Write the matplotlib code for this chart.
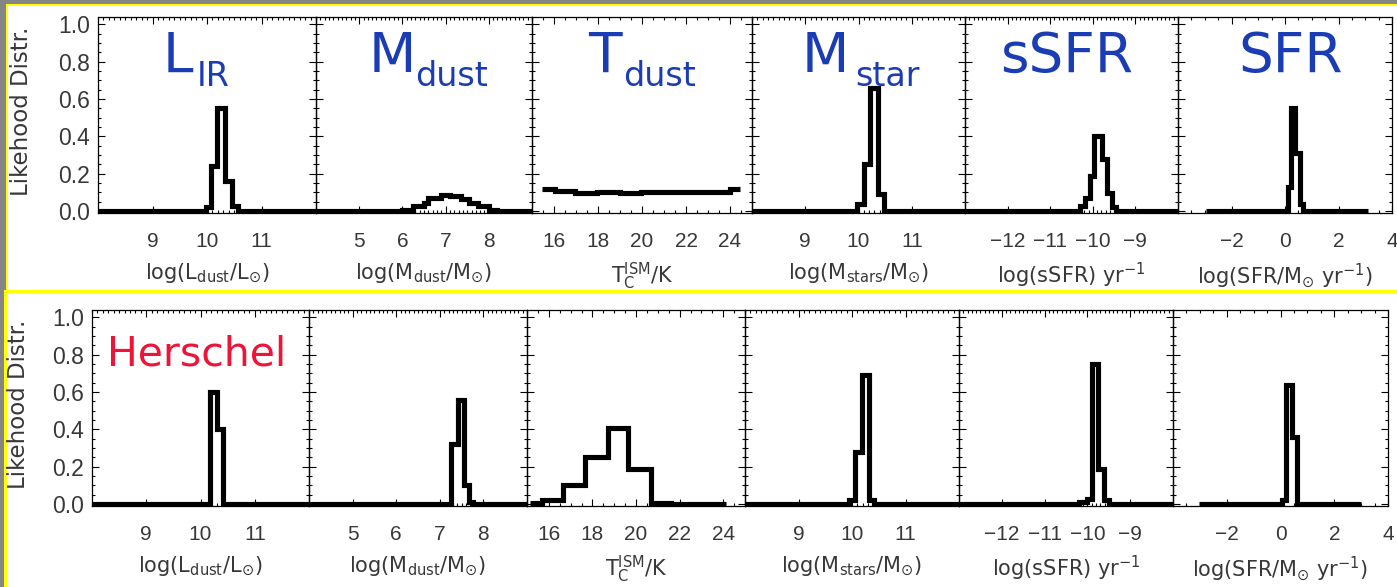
import matplotlib
matplotlib.use("Agg")
import matplotlib.pyplot as plt
from matplotlib.patches import Rectangle
from matplotlib.ticker import FixedLocator, FixedFormatter, MultipleLocator

# ---------------------------------------------------------------- data
# x ranges of the six parameters
lir_range = (8.0, 12.0)
mdust_range = (4.0, 9.0)
tdust_range = (15.0, 25.0)
mstar_range = (8.0, 12.0)
ssfr_range = (-13.0, -8.0)
sfr_range = (-4.0, 4.0)

# labelled ticks
lir_ticks = [9, 10, 11]
lir_ticklabels = ["9", "10", "11"]
mdust_ticks = [5, 6, 7, 8]
mdust_ticklabels = ["5", "6", "7", "8"]
tdust_ticks = [16, 18, 20, 22, 24]
tdust_ticklabels = ["16", "18", "20", "22", "24"]
mstar_ticks = [9, 10, 11]
mstar_ticklabels = ["9", "10", "11"]
ssfr_ticks = [-12, -11, -10, -9]
ssfr_ticklabels = ["\u221212", "\u221211", "\u221210", "\u22129"]
sfr_ticks = [-2, 0, 2, 4]
sfr_ticklabels = ["\u22122", "0", "2", "4"]

y_ticks = [0.0, 0.2, 0.4, 0.6, 0.8, 1.0]
y_ticklabels = ["0.0", "0.2", "0.4", "0.6", "0.8", "1.0"]

# likelihood distributions, full-data fit (top row)
lir_top_edges = [8.0, 9.98, 10.08, 10.19, 10.33, 10.45, 10.57, 12.0]
lir_top_vals = [0.0, 0.02, 0.24, 0.55, 0.16, 0.03, 0.0]
mdust_top_edges = [4.0, 6.0, 6.25, 6.5, 6.6, 6.9, 7.1, 7.35, 7.55, 7.75, 8.0, 8.2, 9.0]
mdust_top_vals = [0.0, 0.005, 0.025, 0.045, 0.07, 0.085, 0.08, 0.065, 0.045, 0.025, 0.005, 0.0]
tdust_top_edges = [15.45, 16.05, 16.95, 17.95, 19.0, 19.95, 21.0, 22.0, 23.0, 24.0, 24.45]
tdust_top_vals = [0.117, 0.108, 0.096, 0.103, 0.099, 0.101, 0.100, 0.101, 0.103, 0.117]
mstar_top_edges = [8.0, 9.98, 10.1, 10.22, 10.37, 10.47, 12.0]
mstar_top_vals = [0.0, 0.04, 0.25, 0.66, 0.09, 0.0]
ssfr_top_edges = [-13.0, -10.3, -10.18, -10.07, -9.97, -9.79, -9.66, -9.56, -9.46, -8.0]
ssfr_top_vals = [0.0, 0.03, 0.07, 0.19, 0.40, 0.28, 0.095, 0.02, 0.0]
sfr_top_edges = [-2.95, 0.1, 0.24, 0.39, 0.55, 0.67, 3.1]
sfr_top_vals = [0.0, 0.13, 0.55, 0.31, 0.04, 0.0]

# likelihood distributions, Herschel fit (bottom row)
lir_bot_edges = [8.0, 10.17, 10.3, 10.42, 12.0]
lir_bot_vals = [0.0, 0.60, 0.40, 0.0]
mdust_bot_edges = [4.0, 7.26, 7.41, 7.56, 7.66, 7.76, 9.0]
mdust_bot_vals = [0.0, 0.32, 0.56, 0.10, 0.01, 0.0]
tdust_bot_edges = [15.15, 15.68, 16.65, 17.65, 18.7, 19.62, 20.68, 21.6, 24.15]
tdust_bot_vals = [0.005, 0.02, 0.10, 0.25, 0.41, 0.19, 0.005, 0.0]
mstar_bot_edges = [8.0, 9.95, 10.06, 10.18, 10.32, 10.41, 12.0]
mstar_bot_vals = [0.0, 0.02, 0.28, 0.69, 0.02, 0.0]
ssfr_bot_edges = [-13.0, -10.2, -10.0, -9.9, -9.75, -9.62, -9.5, -8.0]
ssfr_bot_vals = [0.0, 0.01, 0.03, 0.75, 0.19, 0.02, 0.0]
sfr_bot_edges = [-3.05, 0.05, 0.22, 0.43, 0.6, 3.0]
sfr_bot_vals = [0.0, 0.02, 0.64, 0.36, 0.0]

x_labels = [
    r"log(L$_{\mathregular{dust}}$/L$_{\mathregular{⊙}}$)",
    r"log(M$_{\mathregular{dust}}$/M$_{\mathregular{⊙}}$)",
    r"T$_{\mathregular{C}}^{\mathregular{ISM}}$/K",
    r"log(M$_{\mathregular{stars}}$/M$_{\mathregular{⊙}}$)",
    r"log(sSFR) yr$^{-1}$",
    r"log(SFR/M$_{\mathregular{⊙}}$ yr$^{-1}$)",
]
y_label = "Likehood Distr."
title_main = ["L", "M", "T", "M", "sSFR", "SFR"]
title_sub = ["IR", "dust", "dust", "star", "", ""]
row_tag = "Herschel"

# ---------------------------------------------------------------- layout
W, H = 1397, 587
fig = plt.figure(figsize=(W / 100, H / 100), dpi=100, facecolor="#858585")


def add_box(x0, y0, x1, y1, color, z):
    fig.add_artist(Rectangle((x0 / W, 1 - y1 / H), (x1 - x0) / W, (y1 - y0) / H,
                             transform=fig.transFigure, facecolor=color,
                             edgecolor="none", zorder=z))


# white slide panels with yellow rims
add_box(6, 4, 1400, 292, "#ffff00", -20)
add_box(8, 6, 1400, 290, "white", -19)
add_box(4, 290, 1400, 590, "#ffff00", -18)
add_box(7, 293, 1400, 590, "white", -17)

top_cols = [98, 316, 532, 752, 965, 1178, 1392]
bot_cols = [92, 309, 527, 745, 959, 1173, 1388]
rows = [
    dict(cols=top_cols, top=17, bottom=213,
         hists=[(lir_top_edges, lir_top_vals), (mdust_top_edges, mdust_top_vals),
                (tdust_top_edges, tdust_top_vals), (mstar_top_edges, mstar_top_vals),
                (ssfr_top_edges, ssfr_top_vals), (sfr_top_edges, sfr_top_vals)]),
    dict(cols=bot_cols, top=310, bottom=506,
         hists=[(lir_bot_edges, lir_bot_vals), (mdust_bot_edges, mdust_bot_vals),
                (tdust_bot_edges, tdust_bot_vals), (mstar_bot_edges, mstar_bot_vals),
                (ssfr_bot_edges, ssfr_bot_vals), (sfr_bot_edges, sfr_bot_vals)]),
]
ranges = [lir_range, mdust_range, tdust_range, mstar_range, ssfr_range, sfr_range]
ticks = [lir_ticks, mdust_ticks, tdust_ticks, mstar_ticks, ssfr_ticks, sfr_ticks]
ticklabels = [lir_ticklabels, mdust_ticklabels, tdust_ticklabels,
              mstar_ticklabels, ssfr_ticklabels, sfr_ticklabels]
minor_steps = [0.1, 0.1, 0.5, 0.1, 0.1, 0.5]

text_col = "#383838"

for r, row in enumerate(rows):
    cols, t, b = row["cols"], row["top"], row["bottom"]
    for i in range(6):
        x0, x1 = cols[i], cols[i + 1]
        ax = fig.add_axes([x0 / W, 1 - b / H, (x1 - x0) / W, (b - t) / H])
        ax.set_facecolor("none")
        edges, vals = row["hists"][i]
        ax.stairs(vals, edges, baseline=None, color="black", linewidth=3.7)
        ax.set_xlim(*ranges[i])
        ax.set_ylim(-0.01, 1.04)

        ax.xaxis.set_major_locator(FixedLocator(ticks[i]))
        ax.xaxis.set_major_formatter(FixedFormatter(ticklabels[i]))
        ax.xaxis.set_minor_locator(MultipleLocator(minor_steps[i]))
        ax.yaxis.set_major_locator(FixedLocator(y_ticks))
        ax.yaxis.set_minor_locator(MultipleLocator(0.05))
        if i == 0:
            ax.yaxis.set_major_formatter(FixedFormatter(y_ticklabels))
        else:
            ax.set_yticklabels([])

        ax.tick_params(which="both", direction="in", top=True, right=True,
                       color="black", width=0.8)
        ax.tick_params(which="major", length=5)
        ax.tick_params(which="minor", length=2.5)
        ax.tick_params(axis="x", which="major", pad=14, labelsize=15,
                       labelcolor=text_col, labelfontfamily="Liberation Sans")
        ax.tick_params(axis="y", which="major", pad=6, labelsize=16.5,
                       labelcolor=text_col, labelfontfamily="Liberation Sans")
        for sp in ax.spines.values():
            sp.set_linewidth(0.9)

        ax.set_xlabel(x_labels[i], fontsize=15, color=text_col)
        ax.xaxis.set_label_coords(0.5, -0.245)
        if i == 0:
            ax.set_ylabel(y_label, fontsize=16.5, color=text_col)
            lx = 33 if r == 0 else 30
            ax.yaxis.set_label_coords((lx - x0) / (x1 - x0), 0.52)

# panel titles
blue = "#1a3cb4"
main_x = [163, 369, 588, 802, 1000, 1238]
sub_x = [197, 415, 623, 855, None, None]
for k in range(6):
    fig.text(main_x[k] / W, 1 - 72 / H, title_main[k], fontsize=39.5,
             color=blue, ha="left", va="baseline")
    if title_sub[k]:
        fig.text(sub_x[k] / W, 1 - 86 / H, title_sub[k], fontsize=24,
                 color=blue, ha="left", va="baseline")

fig.text(107 / W, 1 - 365 / H, row_tag, fontsize=29.5, color="#ee1438",
         ha="left", va="baseline")

fig.savefig("out.png", dpi=100, facecolor=fig.get_facecolor())
